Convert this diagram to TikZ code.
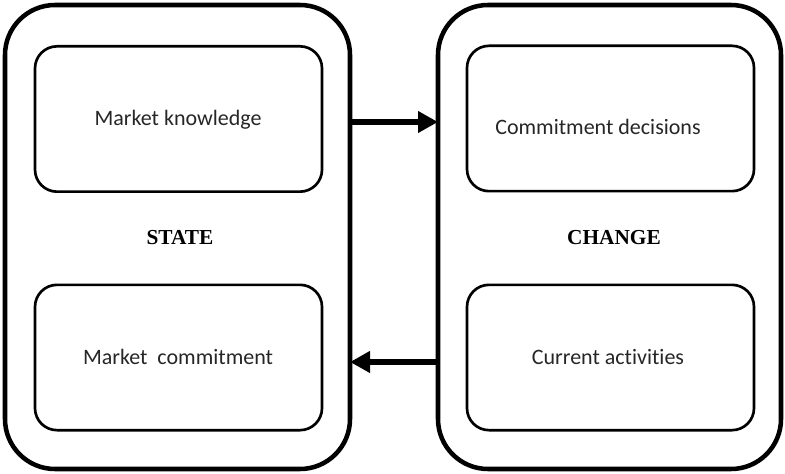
\documentclass[tikz,border=0pt]{standalone}
\usepackage{fontspec}
\setmainfont[RawFeature=-liga]{Carlito}
\newfontfamily\headfont{Liberation Serif}
\usetikzlibrary{arrows.meta}
\begin{document}
\begin{tikzpicture}[x=0.75pt,y=-0.75pt,
  outerbox/.style={draw, line width=3.4pt, rounded corners=37.5pt,
    minimum width=258.75pt, minimum height=348pt, inner sep=0pt, outer sep=0pt},
  innerbox/.style={draw, line width=2pt, rounded corners=16.5pt,
    minimum width=215.25pt, minimum height=109pt, inner sep=0pt, outer sep=0pt},
  lbl/.style={font=\fontsize{16.5pt}{19pt}\selectfont, text=black!85, inner sep=0pt},
  head/.style={font=\headfont\bfseries\fontsize{16pt}{19pt}\selectfont, inner sep=0pt},
  flow/.style={line width=5pt, -{Triangle[length=15pt,width=15.5pt]}}]
  \useasboundingbox (0,0) rectangle (785,474);

  % two outer frames
  \node[outerbox] (state)  at (177.5,237) {};
  \node[outerbox, minimum width=257.25pt] (change) at (609.5,237) {};

  % inner boxes
  \node[innerbox] (knowledge)  at (178.5,119) {};
  \node[innerbox] (commitment) at (178.5,357.5) {};
  \node[innerbox] (decisions)  at (610.5,118.5) {};
  \node[innerbox] (activities) at (610.5,357.5) {};

  % texts
  \node[lbl] at (178,120) {Market knowledge};
  \node[lbl] at (178,357) {Market~ commitment};
  \node[lbl] at (598,127) {Commitment decisions};
  \node[lbl] at (608,357) {Current activities};
  \node[head] (statelbl)  at (180,238) {STATE};
  \node[head] (changelbl) at (614,238) {CHANGE};

  % arrows between the frames
  \coordinate (topy) at (0,122);
  \coordinate (boty) at (0,362);
  \draw[flow] (state.east |- topy) -- (change.west |- topy);
  \draw[flow] (change.west |- boty) -- (state.east |- boty);
\end{tikzpicture}
\end{document}
